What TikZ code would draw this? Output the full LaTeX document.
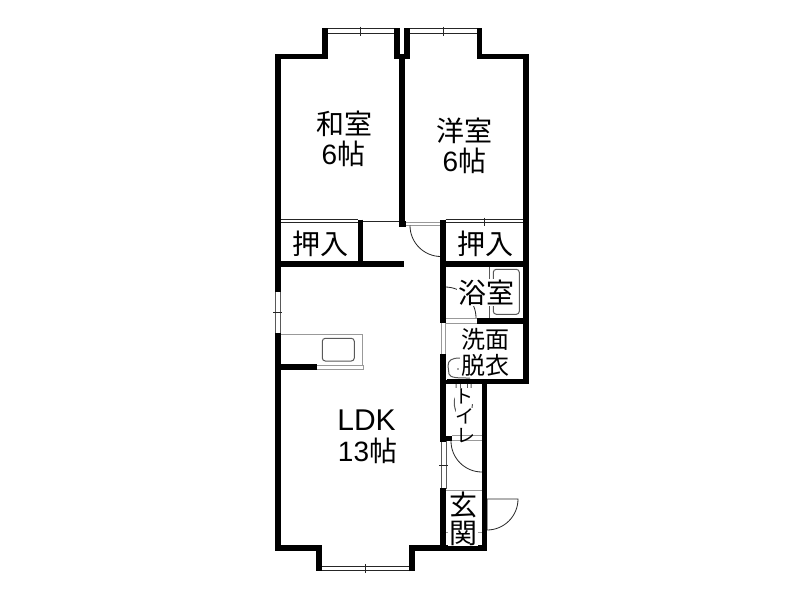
\documentclass[tikz,border=0pt]{standalone}
\usepackage{fontspec}
\setmainfont{Noto Sans CJK JP}
\newfontfamily\latinf{Liberation Sans}
\tikzset{
 wall/.style={line width=5.3pt,black,line join=miter,line cap=butt},
 fine/.style={line width=0.8pt,black!85},
 pale/.style={line width=1pt,black!40},
 fix/.style={line width=1pt,black!65},
 lbl/.style={inner sep=0pt,text=black,font=\fontsize{#1}{#1}\selectfont},
 lblw/.style={inner sep=1pt,fill=white,text=black,font=\fontsize{#1}{#1}\selectfont},
}
\begin{document}
\begin{tikzpicture}[x=1pt,y=-1pt]
\path[use as bounding box,fill=white] (0,0) rectangle (800,600);
% fixtures below text
\draw[fine] (445,287) arc[start angle=-90,end angle=0,radius=31];
\draw[fix] (489.3,266) -- (489.3,318.5);
\draw[fix,rounded corners=3pt] (493.3,269.3) rectangle (519.3,314.3);
\draw[fix,rounded corners=3pt] (322.3,338.3) rectangle (354.3,361);
\draw[pale] (280,334.3) -- (362.7,334.3) -- (362.7,365);
\draw[pale] (316.7,365) -- (363.7,365) -- (363.7,369.7) -- (316.7,369.7);
% basin
\draw[fix] (470,378) .. controls (458,378) and (450,378) .. (449,374) -- (448,366) .. controls (448,360) and (452,358) .. (460,358);
\fill[black!70] (458,369) circle (0.8);
% toilet
\draw[fix] (456,384) -- (456,396) .. controls (452,402) and (455,414) .. (462,419);
\draw[fix] (471,384) -- (471,396) .. controls (474,404) and (472,414) .. (466,419);
\draw[fix] (460,384) -- (460,392) (467,384) -- (467,392);
% doors
\draw[pale] (405,222.5) -- (441,222.5) (405,225.5) -- (441,225.5);
\draw[fine] (410,225.5) arc[start angle=180,end angle=90,radius=31];
\draw[pale] (445,318.5) -- (477,318.5) (445,323) -- (477,323);
\draw[pale] (441,323) -- (441,354) (445,323) -- (445,354);
\draw[pale] (452,435.8) -- (482,435.8) (452,440) -- (482,440);
\draw[fine] (451,441) arc[start angle=180,end angle=90,radius=31];
\draw[pale] (446,490.7) -- (482,490.7);
\draw[pale] (446,532.7) -- (482,532.7);
\draw[pale] (482.3,499) -- (482.3,530) (487,499) -- (487,530);
\draw[fine] (487,499) -- (518,499) arc[start angle=0,end angle=90,radius=31];
% closets and thin partitions
\draw[fine] (280.5,219.7) -- (358,219.7) (280.5,222.3) -- (358,222.3);
\draw[fine] (363,221.8) -- (400,221.8);
\draw[fine] (445.5,219.7) -- (523.5,219.7) (445.5,222.3) -- (523.5,222.3);
\draw[fine] (484.3,217.5) -- (484.3,226);
% windows
\draw[fine] (327.5,28.8) rectangle (394.5,33.2);
\draw[fine] (360.3,26.5) -- (360.3,36);
\draw[fine] (409.5,28.8) rectangle (477,33.2);
\draw[fine] (443.3,26.5) -- (443.3,36);
\draw[fine] (321.5,566.2) rectangle (409.5,570.7);
\draw[fine] (365.7,564) -- (365.7,573);
\draw[fix] (275.2,291.7) rectangle (280.5,333);
\draw[line width=1.3pt,black!85] (273,312.7) -- (282,312.7);
\draw[fix] (441,441.7) rectangle (446,488.3);
\draw[line width=1pt,black!85] (439,465) -- (448,465);
% walls
\draw[wall] (278,291.7) -- (278,54) ;
\draw[wall] (275.4,56.5) -- (325,56.5) -- (325,28.3);
\draw[wall] (397,28.3) -- (397,56.5) -- (407,56.5) -- (407,28.3);
\draw[wall] (402,56.5) -- (402,224.5) ;
\draw[wall] (399,224) -- (405.5,224);
\draw[wall] (479.5,28.3) -- (479.5,56.5) -- (526,56.5) -- (526,381.7);
\draw[wall] (360.5,219.5) -- (360.5,264);
\draw[wall] (278,264) -- (404.3,264);
\draw[wall] (443,219.7) -- (443,323);
\draw[wall] (443,264) -- (526,264);
\draw[wall] (477,321) -- (526,321);
\draw[wall] (443,381.7) -- (528.6,381.7);
\draw[wall] (443,354) -- (443,441.7);
\draw[wall] (443,488.3) -- (443,548);
\draw[wall] (484.7,381) -- (484.7,550.6);
\draw[wall] (446,438.5) -- (452,438.5);
\draw[wall] (278,333) -- (278,550.6);
\draw[wall] (275.4,548) -- (319,548) -- (319,571);
\draw[wall] (412,571) -- (412,548) -- (487.3,548);
\draw[wall] (278,367) -- (316.7,367);
\draw[white,line width=0.9pt,dash pattern=on 1.5pt off 2.2pt] (446,356) -- (446,380);
% labels
\node[lbl=28] (washitsu) at (344,124) {和室};
\node[lbl=28] (washitsuB) at (343.5,154) {{\latinf 6}帖};
\node[lbl=28] (youshitsu) at (464,131) {洋室};
\node[lbl=28] (youshitsuB) at (464.5,161) {{\latinf 6}帖};
\node[lbl=28] (oshiireA) at (320,244) {押入};
\node[lbl=28] (oshiireB) at (485,244) {押入};
\node[lblw=28] (yokushitsu) at (486,292.5) {浴室};
\node[lbl=24] (senmen) at (485,339) {洗面};
\node[lblw=24] (datsui) at (485,365) {脱衣};
\node[lbl=30] (ldk) at (366.5,420) {\latinf LDK};
\node[lbl=28] (ldkB) at (367.5,451) {{\latinf 13}帖};
\node[lbl=19,fill=white] (to) at (464,396) {ト};
\node[lbl=19,fill=white] (i) at (465,416) {イ};
\node[lbl=19] (re) at (466,435.5) {レ};
\node[lblw=28] (gen) at (463,505) {玄};
\node[lblw=28] (kan) at (463,533) {関};
\end{tikzpicture}
\end{document}
